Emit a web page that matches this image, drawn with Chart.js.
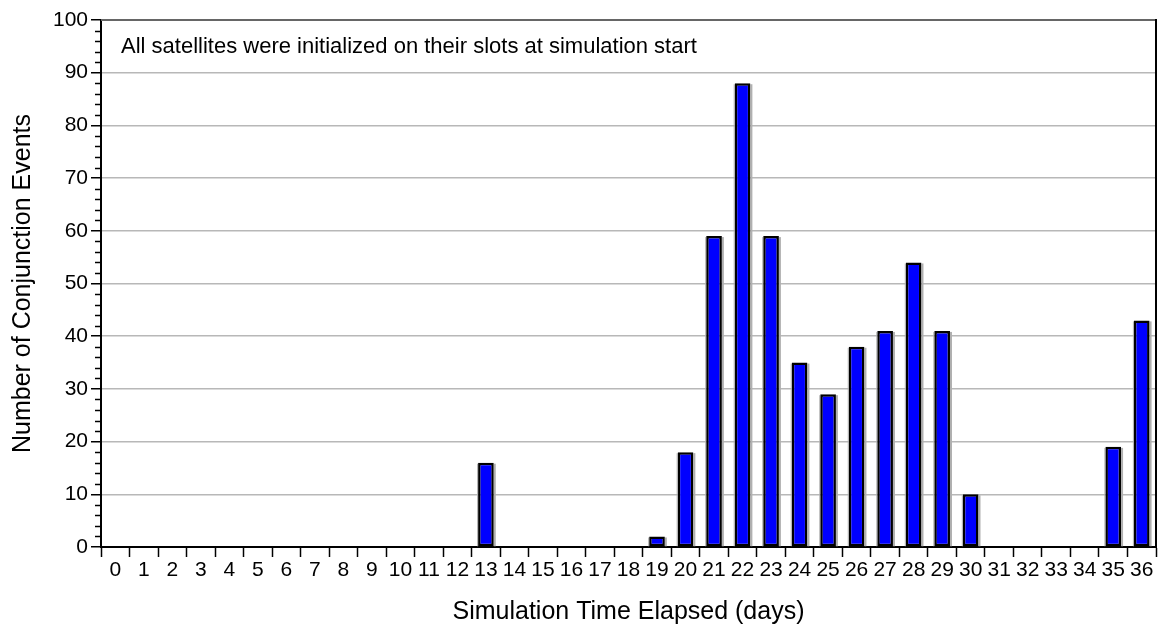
<!DOCTYPE html>
<html>
<head>
<meta charset="utf-8">
<script src="https://cdn.jsdelivr.net/npm/chart.js@4.4.0/dist/chart.umd.min.js"></script>
<style>
  html, body { margin: 0; padding: 0; background: #fff; }
  #wrap { width: 1158px; height: 628px; }
</style>
</head>
<body>
<div id="wrap"><canvas id="barChart"></canvas></div>
<script>
// days elapsed (categories) and conjunction counts per day
var days = ['0','1','2','3','4','5','6','7','8','9','10','11','12','13','14','15','16','17','18',
            '19','20','21','22','23','24','25','26','27','28','29','30','31','32','33','34','35','36'];
var conjunctions = [0,0,0,0,0,0,0,0,0,0,0,0,0,16,0,0,0,0,0,
                    2,18,59,88,59,35,29,38,41,54,41,10,0,0,0,0,19,43];
var noteText = 'All satellites were initialized on their slots at simulation start';
var xTitle = 'Simulation Time Elapsed (days)';
var yTitle = 'Number of Conjunction Events';

var fontFamily = '"Liberation Sans", Arial, Helvetica, sans-serif';

// bar shadows, minor ticks on the y axis, frame on top/right, and the note text
var framePlugin = {
  id: 'frame',
  beforeDatasetsDraw: function (chart) {
    var ctx = chart.ctx;
    var meta = chart.getDatasetMeta(0);
    ctx.save();
    ctx.fillStyle = '#b0b0b0';
    meta.data.forEach(function (bar) {
      var p = bar.getProps(['x', 'y', 'base', 'width'], true);
      if (p.base - p.y < 1) return;
      var right = p.x + p.width / 2;
      ctx.fillRect(right, p.y + 1, 2, p.base - p.y - 1);
      ctx.fillRect(p.x - p.width / 2 - 1, p.y + 1, 1, p.base - p.y - 1);
    });
    ctx.restore();
  },
  afterDraw: function (chart) {
    var ctx = chart.ctx;
    var area = chart.chartArea;
    var y = chart.scales.y;
    ctx.save();
    // minor ticks every 2
    ctx.strokeStyle = '#000';
    ctx.lineWidth = 1.5;
    for (var v = 0; v <= 100; v += 2) {
      if (v % 10 === 0) continue;
      var py = Math.round(y.getPixelForValue(v)) + 0.5;
      ctx.beginPath();
      ctx.moveTo(area.left - 6, py);
      ctx.lineTo(area.left, py);
      ctx.stroke();
    }
    // top border
    ctx.strokeStyle = '#666';
    ctx.lineWidth = 2;
    ctx.beginPath();
    ctx.moveTo(area.left, area.top);
    ctx.lineTo(area.right, area.top);
    ctx.stroke();
    // right border
    ctx.strokeStyle = '#000';
    ctx.beginPath();
    ctx.moveTo(area.right, area.top - 1);
    ctx.lineTo(area.right, area.bottom);
    ctx.stroke();
    // note
    ctx.fillStyle = '#000';
    ctx.font = '22px ' + fontFamily;
    ctx.textAlign = 'left';
    ctx.textBaseline = 'middle';
    ctx.fillText(noteText, area.left + 20, area.top + 27);
    ctx.restore();
  }
};

var barChart = new Chart(document.getElementById('barChart'), {
  type: 'bar',
  data: {
    labels: days,
    datasets: [{
      label: 'Conjunctions',
      data: conjunctions,
      backgroundColor: '#0000ff',
      borderColor: '#000',
      borderWidth: 2.5,
      borderSkipped: false,
      barPercentage: 0.55,
      categoryPercentage: 1.0
    }]
  },
  options: {
    responsive: true,
    maintainAspectRatio: false,
    animation: false,
    events: [],
    layout: { padding: { top: 20, right: 2, left: 0, bottom: 0 } },
    plugins: {
      legend: { display: false },
      tooltip: { enabled: false }
    },
    scales: {
      x: {
        grid: {
          display: true,
          drawOnChartArea: false,
          offset: true,
          tickLength: 10,
          tickColor: '#000',
          tickWidth: 1.5
        },
        border: { display: true, color: '#000', width: 2 },
        ticks: {
          color: '#000',
          font: { family: fontFamily, size: 21 },
          padding: 1,
          maxRotation: 0,
          autoSkip: false
        },
        title: {
          display: true,
          text: xTitle,
          color: '#000',
          font: { family: fontFamily, size: 25 },
          padding: { top: 0, bottom: 1 }
        },
        afterFit: function (scale) { scale.height = 81; }
      },
      y: {
        min: 0,
        max: 100,
        ticks: {
          stepSize: 10,
          color: '#000',
          font: { family: fontFamily, size: 21 },
          padding: 3
        },
        grid: {
          color: function (c) {
            if (c.tick && (c.tick.value === 0 || c.tick.value === 100)) return 'rgba(0,0,0,0)';
            return '#b8b8b8';
          },
          lineWidth: 1.5,
          tickLength: 10,
          tickColor: '#000',
          tickWidth: 1.5
        },
        border: { display: true, color: '#000', width: 2 },
        title: {
          display: true,
          text: yTitle,
          color: '#000',
          font: { family: fontFamily, size: 25 },
          padding: { top: 8, bottom: 0 }
        },
        afterFit: function (scale) { scale.width = 101; }
      }
    }
  },
  plugins: [framePlugin]
});
</script>
</body>
</html>
